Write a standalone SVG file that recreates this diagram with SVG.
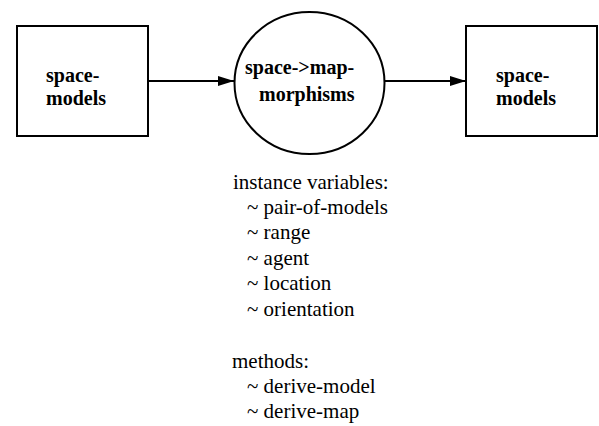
<svg xmlns="http://www.w3.org/2000/svg" width="599" height="426" viewBox="0 0 599 426">
<defs>
<style>
.shape{fill:#fff;stroke:#000;stroke-width:2}
.conn{stroke:#000;stroke-width:2;fill:none}
.serif{font-family:"Times New Roman",Times,"Liberation Serif","Noto Serif","DejaVu Serif",serif}
</style>
<marker id="arrow" markerUnits="userSpaceOnUse" markerWidth="16" markerHeight="10" refX="16" refY="5" orient="auto">
<path d="M0,0 L16,5 L0,10 Z" fill="#000"/>
</marker>
</defs>
<rect width="599" height="426" fill="#fff"/>
<g id="connectors">
<line class="conn" x1="148" y1="81" x2="234" y2="81" marker-end="url(#arrow)"/>
<line class="conn" x1="385" y1="81" x2="466" y2="81" marker-end="url(#arrow)"/>
</g>
<g class="serif" font-weight="bold" font-size="20" fill="#000">
<g id="node-left">
<rect class="shape" x="17" y="26" width="131" height="110"/>
<text x="46" y="82">space-</text>
<text x="46" y="105">models</text>
</g>
<g id="node-center">
<ellipse class="shape" cx="309.5" cy="83" rx="75" ry="71"/>
<text x="245" y="74">space-&gt;map-</text>
<text x="259" y="101">morphisms</text>
</g>
<g id="node-right">
<rect class="shape" x="466" y="26" width="131" height="110"/>
<text x="496" y="82">space-</text>
<text x="496" y="105">models</text>
</g>
</g>
<g id="notes" class="serif" font-size="21" fill="#000">
<text x="233" y="189">instance variables:</text>
<text x="247" y="214">~ pair-of-models</text>
<text x="247" y="239">~ range</text>
<text x="247" y="265">~ agent</text>
<text x="247" y="290">~ location</text>
<text x="247" y="316">~ orientation</text>
<text x="232" y="368">methods:</text>
<text x="247" y="393">~ derive-model</text>
<text x="247" y="418">~ derive-map</text>
</g>
</svg>
